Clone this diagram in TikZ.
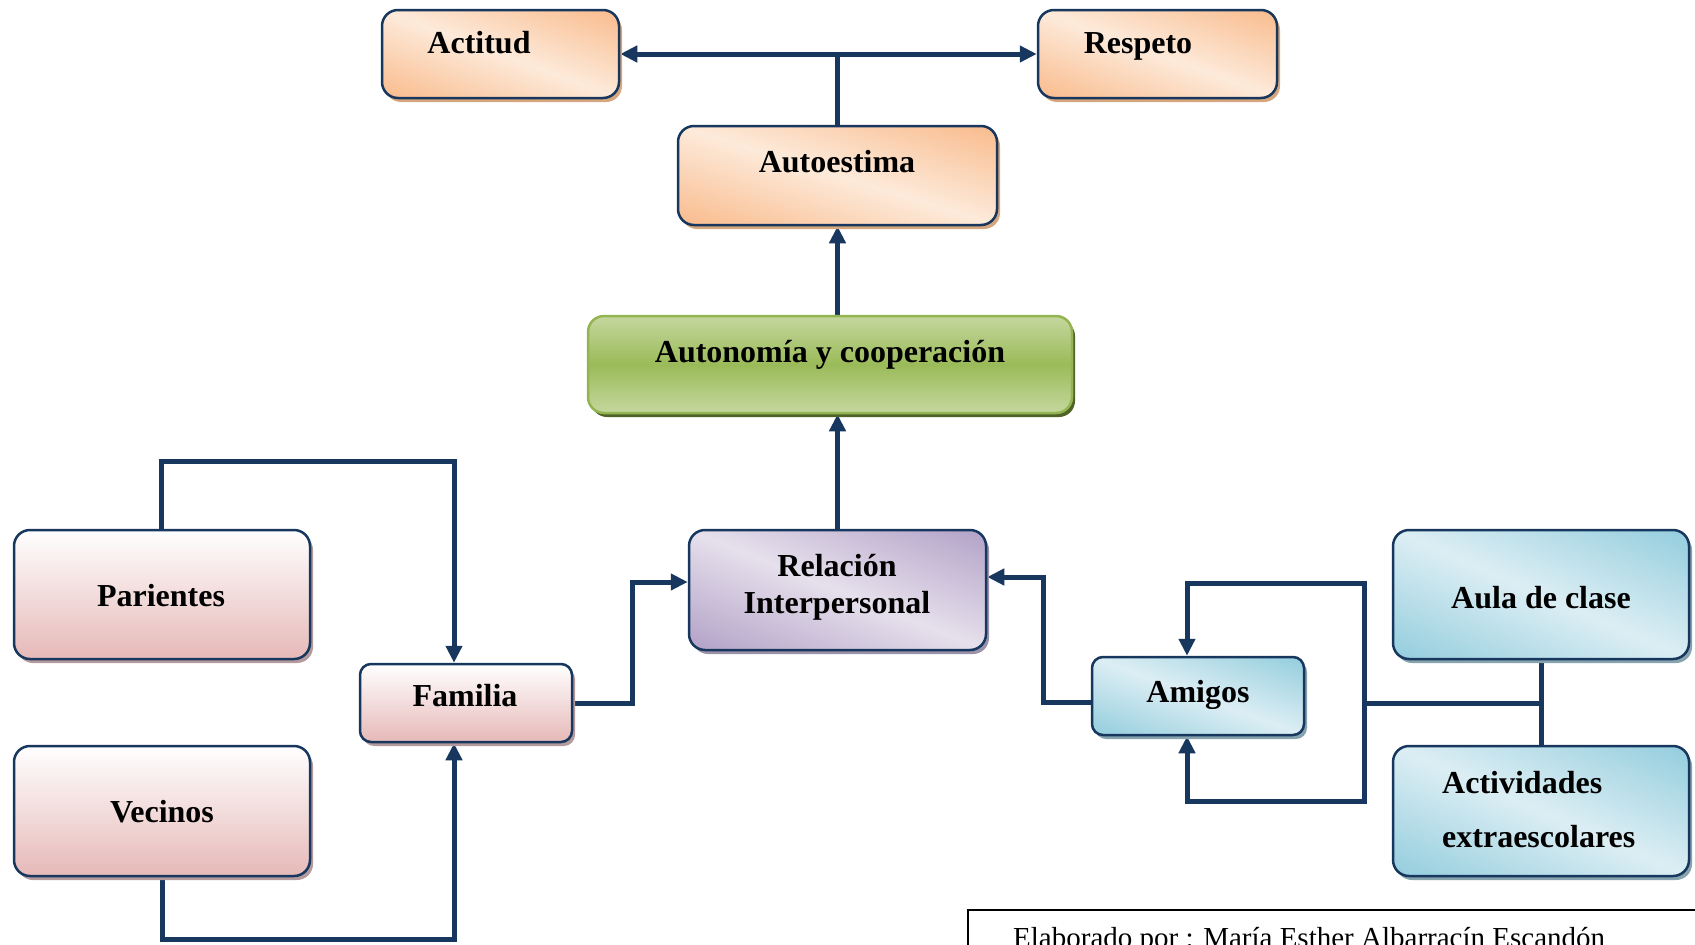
\documentclass[tikz,border=0pt]{standalone}
\usepackage{fontspec}
\setmainfont{Liberation Serif}
\usetikzlibrary{arrows.meta,shadows}
\definecolor{navy}{HTML}{17375E}
\definecolor{orS}{HTML}{D6A77E}
\definecolor{grT}{HTML}{C4D79E}
\definecolor{grM}{HTML}{9BBB59}
\definecolor{grE}{HTML}{93B450}
\definecolor{grS}{HTML}{4F6228}
\definecolor{puS}{HTML}{9A92A8}
\definecolor{piD}{HTML}{E6B9B8}
\definecolor{piS}{HTML}{B49A9C}
\definecolor{blS}{HTML}{86A3AE}
\pgfdeclarelayer{bg}
\pgfsetlayers{bg,main}
% diagonal shadings: dark at top-right and bottom-left corners, light along the other diagonal
\pgfdeclarefunctionalshading{orshade}{\pgfpoint{0bp}{0bp}}{\pgfpoint{100bp}{100bp}}{}{%
  add 100 sub abs 50 div dup 1 gt {pop 1} if dup dup
  -0.016 mul 0.992 add 3 1 roll -0.185 mul 0.918 add exch -0.306 mul 0.855 add}
\pgfdeclarefunctionalshading{pushade}{\pgfpoint{0bp}{0bp}}{\pgfpoint{100bp}{100bp}}{}{%
  add 100 sub abs 50 div dup 1 gt {pop 1} if dup dup
  -0.204 mul 0.902 add 3 1 roll -0.247 mul 0.878 add exch -0.145 mul 0.925 add}
\pgfdeclarefunctionalshading{blshade}{\pgfpoint{0bp}{0bp}}{\pgfpoint{100bp}{100bp}}{}{%
  add 100 sub abs 50 div dup 1 gt {pop 1} if dup dup
  -0.287 mul 0.863 add 3 1 roll -0.129 mul 0.933 add exch -0.090 mul 0.957 add}
\begin{document}
\begin{tikzpicture}[x=1pt,y=-1pt,
  box/.style={draw=navy, line width=2.5pt, rounded corners=16pt, inner sep=0pt},
  sbox/.style={box, rounded corners=11pt},
  shad/.style={drop shadow={shadow xshift=3pt, shadow yshift=-4pt, fill=#1, opacity=1}},
  obox/.style={shade, shading=orshade, shad=orS},
  gbox/.style={draw=grE, top color=grT, bottom color=grT, middle color=grM, shad=grS},
  pubox/.style={shade, shading=pushade, shad=puS},
  pibox/.style={top color=white, bottom color=piD, shad=piS},
  blbox/.style={shade, shading=blshade, shad=blS},
  lbl/.style={font=\fontsize{32}{37}\selectfont\bfseries, inner sep=0pt, anchor=base},
  conn/.style={draw=navy, line width=5pt, line cap=rect, line join=miter},
  tip/.style={-{Triangle[length=17pt,width=16pt]}},
  tips/.style={{Triangle[length=17pt,width=16pt]}-{Triangle[length=17pt,width=16pt]}}
]
\useasboundingbox (0,0) rectangle (1695,945);
\clip (0,0) rectangle (1695,945);

% boxes
\node[box, obox, minimum width=237pt, minimum height=88pt] (actitud) at (500.5,54) {};
\node[box, obox, minimum width=239pt, minimum height=88pt] (respeto) at (1157.5,54) {};
\node[box, obox, minimum width=319pt, minimum height=99pt] (autoestima) at (837.5,175.5) {};
\node[box, gbox, minimum width=484pt, minimum height=97pt] (autonomia) at (830,364.5) {};
\node[box, pubox, minimum width=297pt, minimum height=120pt] (relacion) at (837.5,590) {};
\node[box, pibox, minimum width=296pt, minimum height=129pt] (parientes) at (162,594.5) {};
\node[box, pibox, minimum width=296pt, minimum height=130pt] (vecinos) at (162,811) {};
\node[sbox, pibox, minimum width=212pt, minimum height=78pt] (familia) at (466,703) {};
\node[sbox, blbox, minimum width=212pt, minimum height=78pt] (amigos) at (1198,696) {};
\node[box, blbox, minimum width=296pt, minimum height=129pt] (aula) at (1541,594.5) {};
\node[box, blbox, minimum width=296pt, minimum height=130pt] (activ) at (1541,811) {};

% texts
\node[lbl] (tactitud) at (479,53) {Actitud};
\node[lbl] (trespeto) at (1138,53) {Respeto};
\node[lbl] (tautoestima) at (837,172) {Autoestima};
\node[lbl] (tautonomia) at (830,362) {Autonomía y cooperación};
\node[lbl, anchor=base, align=center] (trelacion) at (837,613) {Relación\\Interpersonal};
\node[lbl] (tparientes) at (161,606) {Parientes};
\node[lbl] (tvecinos) at (162,822) {Vecinos};
\node[lbl] (tfamilia) at (465,706) {Familia};
\node[lbl] (tamigos) at (1198,702) {Amigos};
\node[lbl] (taula) at (1541,608) {Aula de clase};
\node[lbl, anchor=base west, align=left] (tactiv) at (1442,847) {Actividades\\[17pt]extraescolares};

% footer
\draw[line width=1.5pt, black] (968,1000) -- (968,910) -- (1720,910);
\node[anchor=base west, inner sep=0pt, font=\fontsize{29}{34}\selectfont] (footer) at (1013,947) {Elaborado por : María Esther Albarracín Escandón};

% connectors
\coordinate (rtop) at (1364,583);
\coordinate (rbot) at (1364,801);
\coordinate (hub) at (1364,703);
\begin{pgfonlayer}{bg}
\draw[conn] (autoestima.north) -- (autoestima.north |- actitud.east);
\draw[conn, tips] (actitud.east) -- (respeto.west);
\draw[conn, tip] (autoestima.south |- autonomia.north) -- (autoestima.south);
\draw[conn, tip] (relacion.north) -- (relacion.north |- autonomia.south);
\draw[conn, tip] ([xshift=-1pt]parientes.north) -- ++(0,-67) -| ([xshift=-12pt]familia.north);
\draw[conn, tip] (vecinos.south) -- ++(0,62) -| ([xshift=-12pt]familia.south);
\draw[conn, tip] (familia.east) -- ++(59,0) |- ([yshift=8pt]relacion.west);
\draw[conn, tip] ([yshift=-6pt]amigos.west) -- ++(-47,0) |- ([yshift=13pt]relacion.east);
\draw[conn] (aula.south) -- (activ.north);
\draw[conn] (hub) -- (hub -| aula.south);
\draw[conn] (rtop) -- (rbot);
\draw[conn, tip] (rtop) -| ([xshift=-11pt]amigos.north);
\draw[conn, tip] (rbot) -| ([xshift=-11pt]amigos.south);
\end{pgfonlayer}
\end{tikzpicture}
\end{document}
